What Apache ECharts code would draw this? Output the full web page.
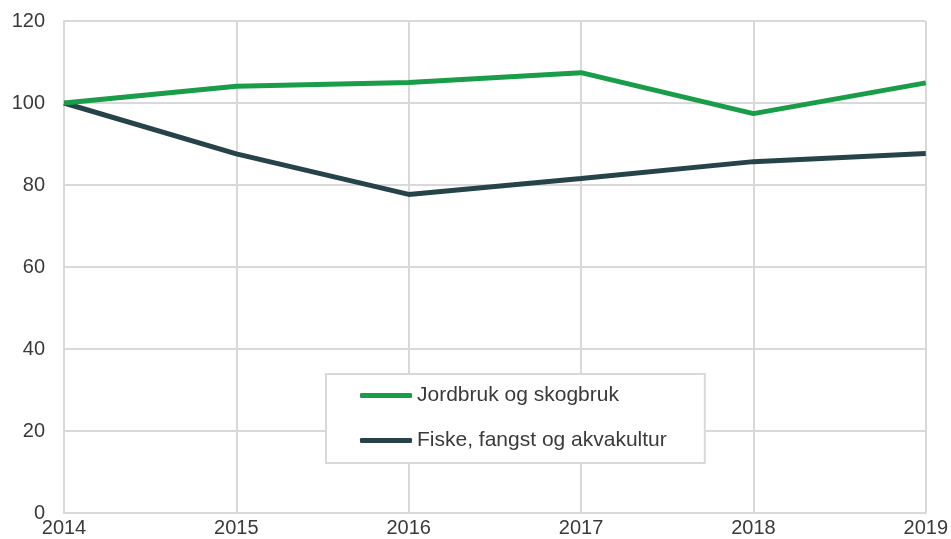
<!DOCTYPE html>
<html>
<head>
<meta charset="utf-8">
<title>Indeks</title>
<script src="https://cdn.jsdelivr.net/npm/echarts@6/dist/echarts.min.js"></script>
<style>
    html, body { margin: 0; padding: 0; background: #fff; }
    #chart { width: 951px; height: 539px; }
</style>
</head>
<body>
<div id="chart"></div>
<script>
    var years = ['2014', '2015', '2016', '2017', '2018', '2019'];
    var jordbruk = [100, 104.1, 105.0, 107.4, 97.4, 104.9];
    var fiske = [100, 87.6, 77.7, 81.6, 85.7, 87.7];
    var yTicks = [0, 20, 40, 60, 80, 100, 120];

    var gridColor = '#d9d9d9';
    var textColor = '#3a3a3a';

    var option = {
        animation: false,
        textStyle: { fontFamily: 'Liberation Sans, Arial, sans-serif' },
        grid: {
            left: 64,
            right: 24,
            top: 21,
            bottom: 26
        },
        legend: {
            orient: 'vertical',
            left: 326,
            top: 374,
            padding: [11, 38, 12, 34],
            itemGap: 24,
            itemWidth: 52,
            itemHeight: 5,
            icon: 'roundRect',
            backgroundColor: '#fff',
            borderColor: gridColor,
            borderWidth: 2,
            borderRadius: 0,
            textStyle: { fontSize: 21, color: textColor }
        },
        xAxis: {
            type: 'category',
            boundaryGap: false,
            data: years,
            axisLine: { lineStyle: { color: gridColor, width: 2 } },
            axisTick: { show: false },
            axisLabel: { fontSize: 20, color: textColor, margin: 5 },
            splitLine: { show: true, lineStyle: { color: gridColor, width: 2 } }
        },
        yAxis: {
            type: 'value',
            min: yTicks[0],
            max: yTicks[yTicks.length - 1],
            interval: yTicks[1] - yTicks[0],
            axisLine: { show: true, lineStyle: { color: gridColor, width: 2 } },
            axisTick: { show: false },
            axisLabel: { fontSize: 20, color: textColor, margin: 19 },
            splitLine: { lineStyle: { color: gridColor, width: 2 } }
        },
        series: [{
            name: 'Jordbruk og skogbruk',
            type: 'line',
            data: jordbruk,
            symbol: 'none',
            z: 3,
            itemStyle: { color: '#1a9d49' },
            lineStyle: { color: '#1a9d49', width: 5 }
        }, {
            name: 'Fiske, fangst og akvakultur',
            type: 'line',
            data: fiske,
            symbol: 'none',
            z: 2,
            itemStyle: { color: '#27434a' },
            lineStyle: { color: '#27434a', width: 5 }
        }]
    };

    var myChart = echarts.init(document.getElementById('chart'));
    myChart.setOption(option);
</script>
</body>
</html>
